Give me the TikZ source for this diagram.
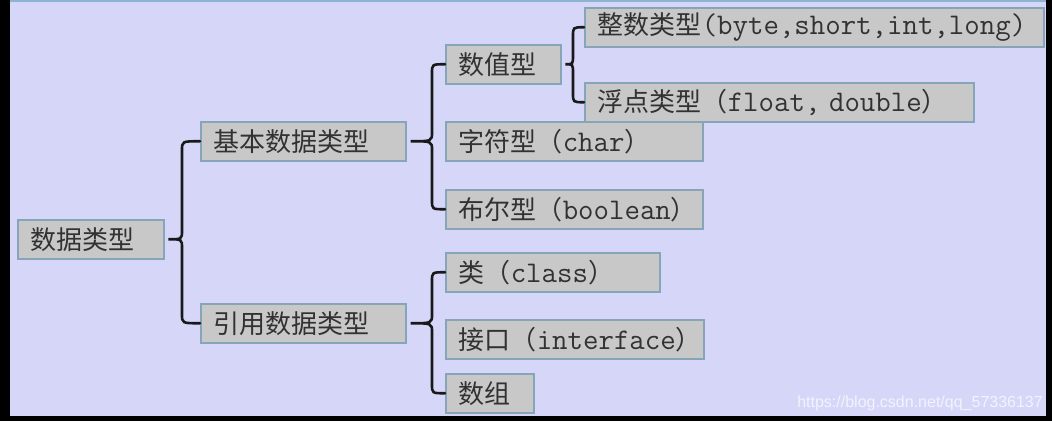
\documentclass[tikz,border=0pt]{standalone}
\usepackage{fontspec}
\setmainfont{Noto Sans CJK SC}
\newfontfamily\shuiyinfont{Liberation Sans}
\usetikzlibrary{calc}

\definecolor{beijing}{RGB}{214,214,249}
\definecolor{toubian}{RGB}{140,180,210}
\definecolor{kuangdi}{RGB}{200,200,200}
\definecolor{kuangbian}{RGB}{135,165,185}
\definecolor{wenzi}{RGB}{50,50,50}

\tikzset{
  kuangzi/.style={draw=kuangbian, fill=kuangdi, line width=1.5pt, anchor=north west,
    minimum height=39pt, inner xsep=13pt, inner ysep=0pt, align=left,
    text=wenzi, font=\fontsize{26}{30}\selectfont},
  kuohaoxian/.style={line width=2.6pt, draw=black!90, line cap=round}
}

\newcommand{\yingwen}[1]{{\ttfamily\fontsize{30}{30}\selectfont #1}}
\newcommand{\kuang}[5]{
    \node[kuangzi, text width=#4pt] (#1) at (#2,#3) {#5};
}
\newcommand{\kuohao}[4]{
    \draw[kuohaoxian] let \p1=(#2.west), \p2=(#3.west), \p3=(#1.east) in
      (\p1) .. controls (\x1-#4,\y1) .. (\x1-#4,\y1-9pt)
      -- (\x1-#4,\y3+9pt) .. controls (\x1-#4,\y3) .. (\x3+4pt,\y3)
      .. controls (\x1-#4,\y3) .. (\x1-#4,\y3-9pt)
      -- (\x1-#4,\y2+9pt) .. controls (\x1-#4,\y2) .. (\p2);
}

\begin{document}
\begin{tikzpicture}[x=1pt, y=-1pt]

  \useasboundingbox (0,0) rectangle (1052,421);
  \fill[black] (0,0) rectangle (1052,421);
  \fill[beijing] (10,0) rectangle (1046,416);
  \fill[toubian] (10,0) rectangle (1046,1.5);

  % (name, x, y, text width, text)
  \kuang{shuju}{17}{219}{120}{数据类型}
  \kuang{jiben}{200}{121}{179}{基本数据类型}
  \kuang{yinyong}{200}{303}{179}{引用数据类型}
  \kuang{shuzhi}{445}{44}{89}{数值型}
  \kuang{zhengshu}{584}{7}{433}{整数类型\yingwen{(byte,short,int,long)}}
  \kuang{fudian}{584}{82}{363}{浮点类型（\yingwen{float,~double}）}
  \kuang{zifu}{445}{121}{231}{字符型（\yingwen{char}）}
  \kuang{buer}{445}{189}{231}{布尔型（\yingwen{boolean}）}
  \kuang{lei}{445}{252}{188}{类（\yingwen{class}）}
  \kuang{jiekou}{445}{319}{232}{接口（\yingwen{interface}）}
  \kuang{shuzu}{445}{373}{62}{数组}

  \kuohao{shuju}{jiben}{yinyong}{18pt}
  \kuohao{jiben}{shuzhi}{buer}{13pt}
  \kuohao{shuzhi}{zhengshu}{fudian}{11pt}
  \kuohao{yinyong}{lei}{shuzu}{13pt}

  \node[font=\shuiyinfont\fontsize{16}{18}\selectfont, text=white!70!beijing,
    anchor=base east, inner sep=0pt] (shuiyin) at (1043,407)
    {https://blog.csdn.net/qq\_57336137};

\end{tikzpicture}
\end{document}
